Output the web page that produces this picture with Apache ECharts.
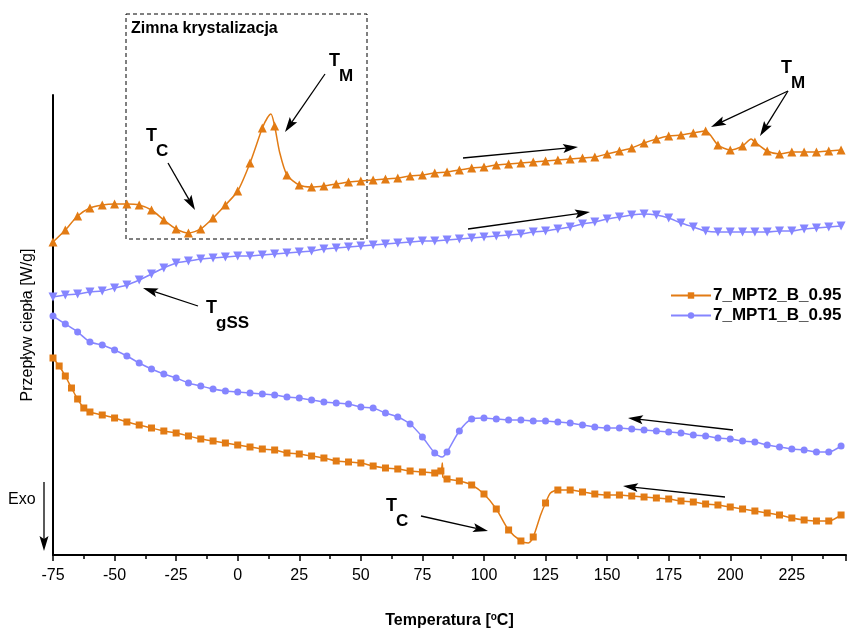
<!DOCTYPE html>
<html>
<head>
<meta charset="utf-8">
<script src="https://cdn.jsdelivr.net/npm/echarts@6/dist/echarts.min.js"></script>
<style>
html,body{margin:0;padding:0;background:#fff;}
#chart{width:849px;height:634px;}
</style>
</head>
<body>
<div id="chart"></div>
<script>
// ---- DATA (temperature in °C, heat flow in arbitrary W/g units) ----
const xTickLabels = [-75, -50, -25, 0, 25, 50, 75, 100, 125, 150, 175, 200, 225];
const legendNames = ['7_MPT2_B_0.95', '7_MPT1_B_0.95'];

// 7_MPT2_B_0.95 heating (upper orange curve)
const mpt2Heating = [
  [-75,3.13],[-70,3.25],[-65,3.39],[-60,3.47],[-55,3.50],[-50,3.51],[-45,3.51],[-40,3.50],
  [-35,3.45],[-30,3.35],[-25,3.26],[-20,3.22],[-15,3.26],[-10,3.37],[-5,3.50],[0,3.64],
  [5,3.92],[10,4.27],[12,4.37],[13.5,4.41],[15,4.29],[17,4.03],[20,3.80],[25,3.70],
  [30,3.68],[35,3.69],[40,3.71],[45,3.73],[50,3.74],[55,3.75],[60,3.76],[65,3.77],
  [70,3.79],[75,3.80],[80,3.82],[85,3.83],[90,3.85],[95,3.87],[100,3.88],[105,3.90],
  [110,3.91],[115,3.92],[120,3.93],[125,3.94],[130,3.95],[135,3.96],[140,3.97],[145,3.98],
  [150,4.01],[155,4.04],[160,4.07],[165,4.12],[170,4.16],[175,4.19],[180,4.20],[185,4.22],
  [190,4.24],[195,4.10],[200,4.05],[205,4.09],[208.5,4.16],[210,4.13],[215,4.04],[220,4.01],
  [225,4.03],[230,4.03],[235,4.03],[240,4.04],[245,4.05]
];

// 7_MPT1_B_0.95 heating (upper blue curve)
const mpt1Heating = [
  [-75,2.58],[-70,2.60],[-65,2.61],[-60,2.63],[-55,2.64],[-50,2.67],[-45,2.70],[-40,2.75],
  [-35,2.81],[-30,2.87],[-25,2.92],[-20,2.94],[-15,2.96],[-10,2.97],[-5,2.98],[0,2.99],
  [5,2.99],[10,3.00],[15,3.01],[20,3.02],[25,3.03],[30,3.04],[35,3.06],[40,3.07],
  [45,3.08],[50,3.09],[55,3.10],[60,3.11],[65,3.12],[70,3.13],[75,3.14],[80,3.14],
  [85,3.15],[90,3.16],[95,3.17],[100,3.18],[105,3.19],[110,3.20],[115,3.21],[120,3.23],
  [125,3.24],[130,3.26],[135,3.28],[140,3.31],[145,3.33],[150,3.36],[155,3.38],[160,3.40],
  [165,3.41],[170,3.40],[175,3.37],[180,3.32],[185,3.28],[190,3.24],[195,3.23],[200,3.23],
  [205,3.23],[210,3.23],[215,3.23],[220,3.24],[225,3.24],[230,3.26],[235,3.27],[240,3.28],
  [245,3.29]
];

// 7_MPT1_B_0.95 cooling (lower blue curve)
const mpt1Cooling = [
  [-75,2.39],[-70,2.31],[-65,2.23],[-60,2.13],[-55,2.10],[-50,2.05],[-45,1.99],[-40,1.92],
  [-35,1.86],[-30,1.81],[-25,1.77],[-20,1.72],[-15,1.69],[-10,1.66],[-5,1.64],[0,1.63],
  [5,1.62],[10,1.61],[15,1.60],[20,1.58],[25,1.57],[30,1.55],[35,1.53],[40,1.52],
  [45,1.51],[50,1.48],[55,1.47],[60,1.42],[65,1.38],[70,1.31],[75,1.18],[80,1.02],
  [83,0.98],[85,1.03],[90,1.24],[95,1.36],[100,1.37],[105,1.36],[110,1.35],[115,1.35],
  [120,1.34],[125,1.34],[130,1.33],[135,1.32],[140,1.30],[145,1.28],[150,1.27],[155,1.27],
  [160,1.26],[165,1.25],[170,1.24],[175,1.23],[180,1.22],[185,1.20],[190,1.19],[195,1.17],
  [200,1.16],[205,1.14],[210,1.13],[215,1.10],[220,1.08],[225,1.06],[230,1.05],[235,1.03],
  [240,1.03],[245,1.09]
];

// 7_MPT2_B_0.95 cooling (lower orange curve)
const mpt2Cooling = [
  [-75,1.97],[-72.5,1.89],[-70,1.79],[-67.5,1.67],[-65,1.56],[-62.5,1.47],[-60,1.43],[-55,1.40],
  [-50,1.37],[-45,1.33],[-40,1.30],[-35,1.27],[-30,1.24],[-25,1.22],[-20,1.19],[-15,1.16],
  [-10,1.14],[-5,1.12],[0,1.10],[5,1.08],[10,1.06],[15,1.05],[20,1.02],[25,1.01],
  [30,0.99],[35,0.97],[40,0.94],[45,0.93],[50,0.92],[55,0.89],[60,0.87],[65,0.86],
  [70,0.84],[75,0.83],[80,0.82],[82.5,0.84],[83.1,0.92],[83.3,0.78],[85,0.76],[90,0.74],
  [95,0.70],[100,0.61],[105,0.46],[110,0.25],[115,0.14],[118,0.12],[120,0.18],[123,0.40],
  [125,0.52],[127,0.62],[130,0.65],[135,0.65],[140,0.63],[145,0.61],[150,0.60],[155,0.60],
  [160,0.59],[165,0.58],[170,0.57],[175,0.56],[180,0.54],[185,0.53],[190,0.51],[195,0.50],
  [200,0.48],[205,0.46],[210,0.44],[215,0.42],[220,0.40],[225,0.37],[230,0.35],[235,0.34],
  [240,0.34],[245,0.40]
];

// ---- STYLE ----
const ORANGE = '#E27B14';
const BLUE = '#8585FF';
const FONT = "'Liberation Sans', Arial, sans-serif";
const NARROW = "'Liberation Sans Narrow', 'Liberation Sans', Arial, sans-serif";

// markers only on regular sampling points (multiples of 2.5 °C)
function withMarkers(arr) {
  return arr.map(p => (Math.abs(p[0] / 2.5 - Math.round(p[0] / 2.5)) < 1e-6)
    ? p : { value: p, symbol: 'none' });
}

function arrow(x1, y1, x2, y2) {
  const headLen = 15, headW = 4.5, notch = 3;
  const dx = x2 - x1, dy = y2 - y1, L = Math.hypot(dx, dy);
  const ux = dx / L, uy = dy / L, px = -uy, py = ux;
  const bx = x2 - ux * headLen, by = y2 - uy * headLen;
  return [
    { type: 'line', silent: true, shape: { x1, y1, x2: bx + ux * notch, y2: by + uy * notch },
      style: { stroke: '#000', lineWidth: 1.3 } },
    { type: 'polygon', silent: true,
      shape: { points: [[x2, y2], [bx + px * headW, by + py * headW], [bx + ux * notch, by + uy * notch], [bx - px * headW, by - py * headW]] },
      style: { fill: '#000' } }
  ];
}
function label(x, y, text, size, weight) {
  return { type: 'text', silent: true, x, y,
    style: { text, fill: '#000', font: (weight || 'bold') + ' ' + size + 'px ' + FONT, textVerticalAlign: 'top' } };
}
function tLabel(x, y, sub) {
  return [label(x, y, 'T', 18), label(x + 10, y + 16, sub, 17)];
}

const graphics = [
  { type: 'rect', silent: true, shape: { x: 126, y: 14, width: 241, height: 225 },
    style: { fill: 'none', stroke: '#000', lineWidth: 1, lineDash: [4, 3] } },
  label(131, 21, 'Zimna krystalizacja', 16),
  ...tLabel(329, 52, 'M'),
  ...arrow(325, 74, 285, 132),
  ...tLabel(146, 127, 'C'),
  ...arrow(168, 163, 195, 210),
  ...tLabel(781, 59, 'M'),
  ...arrow(788, 91, 711, 127),
  ...arrow(788, 91, 760, 136),
  ...arrow(463, 158, 578, 147),
  ...arrow(468, 229, 590, 212),
  ...tLabel(206, 299, 'gSS'),
  ...arrow(198, 306, 143, 288),
  ...arrow(733, 430, 628, 418),
  ...arrow(725, 497, 623, 486),
  ...tLabel(386, 497, 'C'),
  ...arrow(421, 516, 488, 531),
  label(8, 492, 'Exo', 16, 'normal'),
  ...arrow(44, 482, 44, 551)
];

const chart = echarts.init(document.getElementById('chart'), null, { renderer: 'canvas' });
chart.setOption({
  animation: false,
  backgroundColor: '#fff',
  grid: { left: 53, right: 0, top: 95, bottom: 79, containLabel: false },
  legend: {
    data: legendNames,
    orient: 'vertical',
    left: 665, top: 282,
    itemWidth: 40, itemHeight: 8, itemGap: 3,
    textStyle: { fontFamily: FONT, fontWeight: 'bold', fontSize: 17, color: '#000', padding: [0, 0, 0, -3] }
  },
  xAxis: {
    type: 'value', min: -75, max: 247, interval: 25,
    name: '{a|Temperatura [}{s|o}{a|C]}',
    nameLocation: 'middle', nameGap: 57,
    nameTextStyle: {
      rich: {
        a: { fontFamily: FONT, fontWeight: 'bold', fontSize: 16, color: '#000' },
        s: { fontFamily: FONT, fontWeight: 'bold', fontSize: 10, color: '#000', verticalAlign: 'top', padding: [0, 0, 8, 0] }
      }
    },
    axisLine: { show: true, onZero: false, lineStyle: { color: '#000', width: 2 } },
    axisTick: { show: true, inside: false, length: 6, lineStyle: { color: '#000', width: 1.5 } },
    minorTick: { show: true, splitNumber: 2, length: 4, lineStyle: { color: '#000', width: 1.5 } },
    axisLabel: {
      margin: 13, color: '#000', fontFamily: NARROW, fontSize: 16,
      formatter: v => xTickLabels.indexOf(v) >= 0 ? String(v) : ''
    },
    splitLine: { show: false }
  },
  yAxis: {
    type: 'value', min: 0, max: 4.6,
    name: 'Przepływ ciepła [W/g]',
    nameLocation: 'middle', nameGap: 17,
    nameTextStyle: { fontFamily: FONT, fontSize: 16, color: '#000' },
    axisLine: { show: true, onZero: false, lineStyle: { color: '#000', width: 2 } },
    axisTick: { show: false },
    axisLabel: { show: false },
    splitLine: { show: false }
  },
  series: [
    { name: legendNames[0], type: 'line', data: withMarkers(mpt2Cooling), smooth: 0.25,
      symbol: 'rect', symbolSize: 7, color: ORANGE, lineStyle: { width: 1.5, color: ORANGE } },
    { name: legendNames[1], type: 'line', data: withMarkers(mpt1Cooling), smooth: 0.25,
      symbol: 'circle', symbolSize: 7, color: BLUE, lineStyle: { width: 1.5, color: BLUE } },
    { name: legendNames[0] + ' heating', type: 'line', data: withMarkers(mpt2Heating), smooth: 0.25,
      symbol: 'triangle', symbolSize: 9, color: ORANGE, lineStyle: { width: 1.5, color: ORANGE } },
    { name: legendNames[1] + ' heating', type: 'line', data: withMarkers(mpt1Heating), smooth: 0.25,
      symbol: 'triangle', symbolRotate: 180, symbolSize: 9, color: BLUE, lineStyle: { width: 1.5, color: BLUE } }
  ],
  graphic: { elements: graphics }
});
</script>
</body>
</html>
